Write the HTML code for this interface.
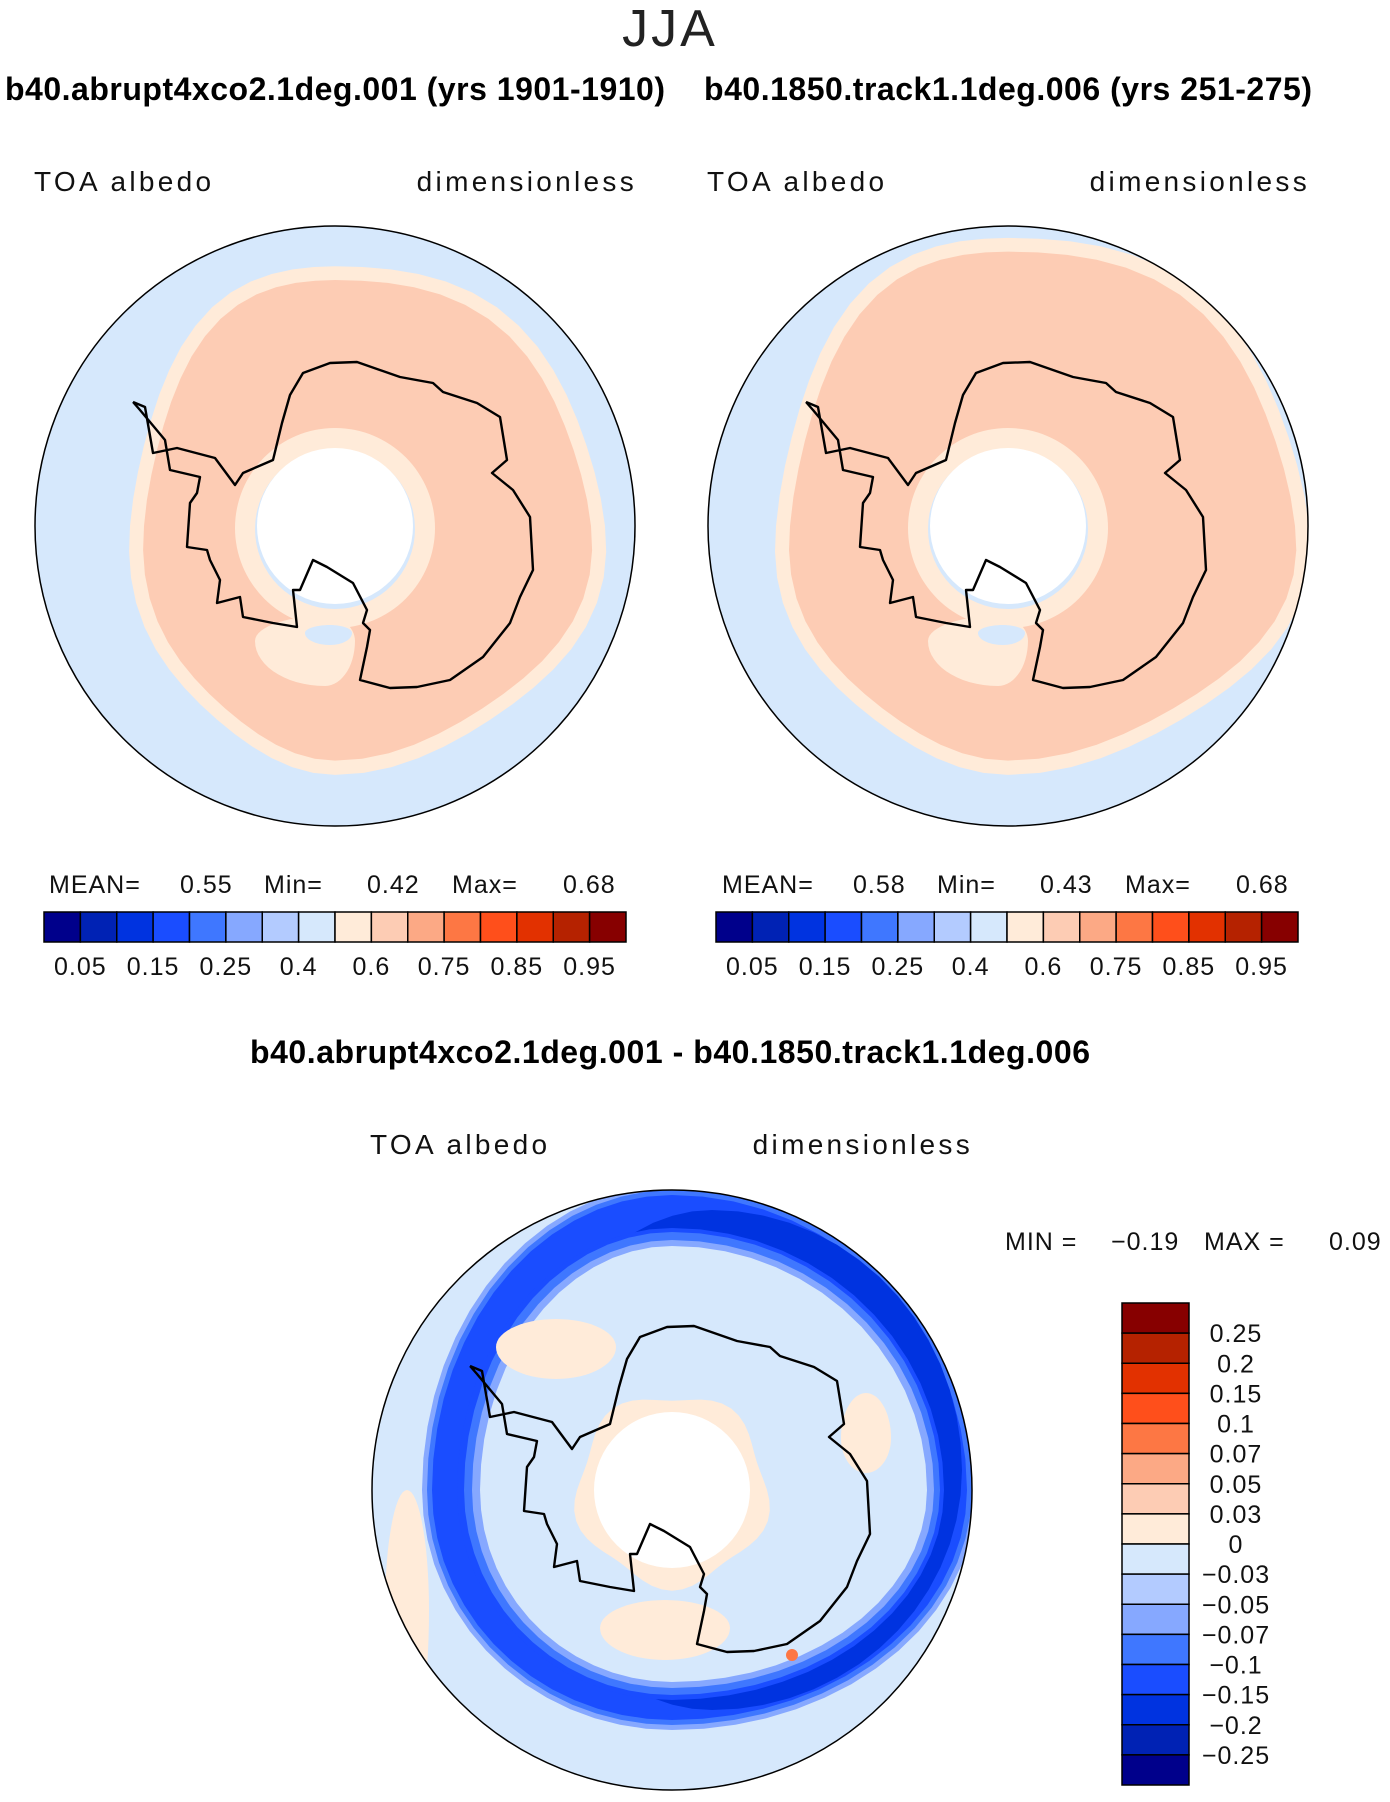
<!DOCTYPE html>
<html><head><meta charset="utf-8"><style>
body{margin:0;background:#fff;}
svg text{font-family:"Liberation Sans",sans-serif;}
.lab{font-size:28px;letter-spacing:3.3px;fill:#111;}
.st{font-size:25px;letter-spacing:1px;fill:#111;}
</style></head><body>
<svg id="fig" width="1390" height="1797" viewBox="0 0 1390 1797" xmlns="http://www.w3.org/2000/svg">
<text x="670" y="46" font-size="52" text-anchor="middle" fill="#222" letter-spacing="3">JJA</text>
<text x="5" y="100" font-size="32" font-weight="bold" textLength="660">b40.abrupt4xco2.1deg.001 (yrs 1901-1910)</text>
<text x="704" y="100" font-size="32" font-weight="bold" textLength="608">b40.1850.track1.1deg.006 (yrs 251-275)</text>
<text class="lab" x="34" y="191">TOA  albedo</text>
<text class="lab" x="637" y="191" text-anchor="end">dimensionless</text>
<text class="lab" x="707" y="191">TOA  albedo</text>
<text class="lab" x="1310" y="191" text-anchor="end">dimensionless</text>
<text x="670" y="1063" font-size="32" font-weight="bold" text-anchor="middle" textLength="840">b40.abrupt4xco2.1deg.001 - b40.1850.track1.1deg.006</text>
<text class="lab" x="370" y="1154">TOA  albedo</text>
<text class="lab" x="973" y="1154" text-anchor="end">dimensionless</text>
<text class="st" y="893"><tspan x="49">MEAN=</tspan><tspan x="180">0.55</tspan><tspan x="264">Min=</tspan><tspan x="367">0.42</tspan><tspan x="452">Max=</tspan><tspan x="563">0.68</tspan></text>
<text class="st" y="893"><tspan x="722">MEAN=</tspan><tspan x="853">0.58</tspan><tspan x="937">Min=</tspan><tspan x="1040">0.43</tspan><tspan x="1125">Max=</tspan><tspan x="1236">0.68</tspan></text>
<text class="st" y="1250"><tspan x="1005">MIN  =</tspan><tspan x="1111">−0.19</tspan><tspan x="1204">MAX  =</tspan><tspan x="1329">0.09</tspan></text>
<g id="maps"></g>
<g id="bars"></g>
</svg>
<script>
const absColors=["#00008b","#0022b4","#0033e0","#1a4dff","#3f77ff","#86a8ff","#b3cbff","#d6e8fc","#ffebd9","#fdccb4","#fca985","#fd7744","#ff4f1b","#e23100","#b52200","#870000"];
const absLabels=["0.05","0.15","0.25","0.4","0.6","0.75","0.85","0.95"];
const diffLabels=["0.25","0.2","0.15","0.1","0.07","0.05","0.03","0","−0.03","−0.05","−0.07","−0.1","−0.15","−0.2","−0.25"];
const NS="http://www.w3.org/2000/svg";
function mk(tag,attrs,parent){const e=document.createElementNS(NS,tag);for(const k in attrs)e.setAttribute(k,attrs[k]);parent.appendChild(e);return e;}
const bars=document.getElementById('bars');
function hbar(x0,name){
  const w=582/16,y=912,h=30;
  absColors.forEach((c,i)=>{const r=mk('rect',{x:x0+i*w,y:y,width:w,height:h,fill:c,stroke:'#000','stroke-width':1.5},bars);
  
  });
  absLabels.forEach((l,j)=>{const t=mk('text',{x:x0+(2*j+1)*w,y:975,'font-size':25,'letter-spacing':1,'text-anchor':'middle',fill:'#111'},bars);t.textContent=l;
  
  });
}
hbar(44,'left-colorbar');hbar(716,'right-colorbar');
(function(){const x=1122,y0=1303,w=67,h=482/16;
  const rev=absColors.slice().reverse();
  rev.forEach((c,i)=>{const r=mk('rect',{x:x,y:y0+i*h,width:w,height:h,fill:c,stroke:'#000','stroke-width':1.5},bars);
  
  });
  diffLabels.forEach((l,i)=>{const t=mk('text',{x:1236,y:y0+(i+1)*h+9,'font-size':25,'letter-spacing':1,'text-anchor':'middle',fill:'#111'},bars);t.textContent=l;
  
  });
})();
const maps=document.getElementById('maps');
function blob(cx,cy,l,r,t,b,wob){
  let d='';for(let a=0;a<=360;a+=6){const rad=a*Math.PI/180;const c=Math.cos(rad),s=Math.sin(rad);
    const rx=c>=0?r:l, ry=s>=0?b:t;const k=1+(wob||0)*Math.sin(rad*5);
    const x=cx+c*rx*k,y=cy+s*ry*k;d+=(a?'L':'M')+x.toFixed(1)+' '+y.toFixed(1);}return d+'Z';}
const coastAbs=[[133,402],[145,407],[153,453],[177,448],[215,458],[235,485],[243,473],[273,460],[282,423],[290,395],[303,373],[330,363],[357,362],[400,377],[433,383],[443,392],[477,403],[500,417],[507,460],[492,473],[513,490],[530,517],[533,570],[520,597],[510,623],[483,657],[450,680],[417,687],[390,688],[360,680],[367,647],[370,630],[363,623],[367,610],[353,583],[327,567],[313,560],[300,590],[293,590],[297,627],[273,623],[243,617],[240,597],[217,603],[220,580],[210,560],[207,550],[187,547],[190,503],[197,493],[200,477],[170,470],[165,440],[140,410],[133,402]];
function coastPath(cx,cy){return coastAbs.map((p,i)=>(i?'L':'M')+(cx+p[0]-335).toFixed(1)+' '+(cy+p[1]-526).toFixed(1)).join('');}
function absMap(cx,cy,sal,name){
  const g=mk('g',{},maps);
  const cp=mk('clipPath',{id:name+'-clip'},g);mk('circle',{cx:cx,cy:cy,r:300},cp);
  const inner=mk('g',{'clip-path':'url(#'+name+'-clip)'},g);
  mk('circle',{cx:cx,cy:cy,r:300,fill:'#d6e8fc'},inner);
  mk('path',{d:blob(cx,cy,sal[0]+14,sal[1]+14,sal[2]+14,sal[3]+14,0.02),fill:'#ffebd9'},inner);
  mk('path',{d:blob(cx,cy,sal[0],sal[1],sal[2],sal[3],0.02),fill:'#fdccb4'},inner);
  mk('circle',{cx:cx,cy:cy+2,r:100,fill:'#ffebd9'},inner);
  mk('path',{d:blob(cx-10,cy+115,70,30,25,45,0),fill:'#ffebd9'},inner);
  mk('path',{d:blob(cx-5,cy+107,25,22,8,12,0),fill:'#d6e8fc'},inner);
  mk('circle',{cx:cx,cy:cy+3,r:80,fill:'#d6e8fc'},inner);
  mk('circle',{cx:cx,cy:cy,r:78,fill:'#fff'},inner);
  mk('path',{d:coastPath(cx,cy),fill:'none',stroke:'#000','stroke-width':2.4,'stroke-linejoin':'round'},inner);
  mk('circle',{cx:cx,cy:cy,r:300,fill:'none',stroke:'#000','stroke-width':1.5},g);
}
absMap(335,526,[191,256,251,230],'left-map');
absMap(1008,526,[218,287,280,230],'right-map');
(function(){const cx=672,cy=1490,name='diff-map';
  const g=mk('g',{},maps);
  const cp=mk('clipPath',{id:name+'-clip'},g);mk('circle',{cx:cx,cy:cy,r:300},cp);
  const inner=mk('g',{'clip-path':'url(#'+name+'-clip)'},g);
  mk('circle',{cx:cx,cy:cy,r:300,fill:'#d6e8fc'},inner);
  mk('path',{d:blob(cx-265,cy+120,22,22,120,140,0),fill:'#ffebd9'},inner);
  mk('path',{d:blob(cx,cy,250,305,305,240,0),fill:'#86a8ff'},inner);
  mk('path',{d:blob(cx,cy,245,300,300,235,0),fill:'#3f77ff'},inner);
  mk('path',{d:blob(cx,cy,240,295,295,230,0),fill:'#1a4dff'},inner);
  mk('path',{d:blob(cx+40,cy-20,190,250,260,240,0),fill:'#0033e0'},inner);
  mk('path',{d:blob(cx,cy,215,272,262,210,0),fill:'#1a4dff'},inner);
  mk('path',{d:blob(cx,cy,208,268,258,205,0),fill:'#3f77ff'},inner);
  mk('path',{d:blob(cx,cy,200,262,250,198,0),fill:'#86a8ff'},inner);
  mk('path',{d:blob(cx,cy,192,255,244,192,0),fill:'#d6e8fc'},inner);
  mk('path',{d:blob(cx-116,cy-143,60,60,28,32,0),fill:'#ffebd9'},inner);
  mk('path',{d:blob(cx-7,cy+138,65,65,28,32,0),fill:'#ffebd9'},inner);
  mk('path',{d:blob(cx+194,cy-52,25,25,45,35,0),fill:'#ffebd9'},inner);
  mk('path',{d:blob(cx,cy,95,95,95,95,0.06),fill:'#ffebd9'},inner);
  mk('circle',{cx:cx,cy:cy,r:78,fill:'#fff'},inner);
  mk('circle',{cx:cx+120,cy:cy+165,r:6,fill:'#fd7744'},inner);
  mk('path',{d:coastPath(cx,cy),fill:'none',stroke:'#000','stroke-width':2.4,'stroke-linejoin':'round'},inner);
  mk('circle',{cx:cx,cy:cy,r:300,fill:'none',stroke:'#000','stroke-width':1.5},g);
})();
</script>
</body></html>
